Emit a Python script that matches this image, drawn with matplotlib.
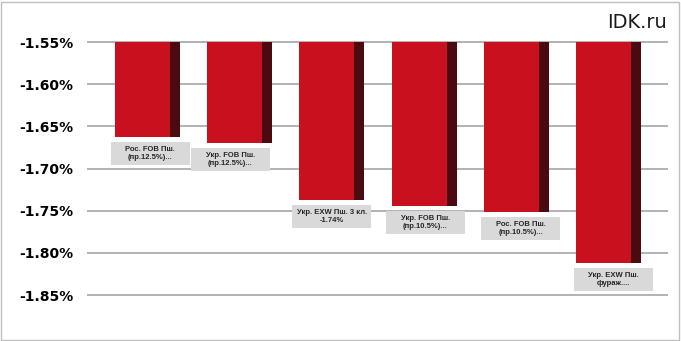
import matplotlib
matplotlib.use("Agg")
import matplotlib.pyplot as plt
from matplotlib.patches import Rectangle

# data
labels = ["Рос. FOB Пш.\n(пр.12.5%)...",
          "Укр. FOB Пш.\n(пр.12.5%)...",
          "Укр. EXW Пш. 3 кл.\n-1.74%",
          "Укр. FOB Пш.\n(пр.10.5%)...",
          "Рос. FOB Пш.\n(пр.10.5%)...",
          "Укр. EXW Пш.\nфураж...."]
values = [-1.663, -1.670, -1.737, -1.745, -1.751, -1.812]
yticks = [-1.55, -1.60, -1.65, -1.70, -1.75, -1.80, -1.85]
base = -1.55

# label box shifts (in bar units) as placed in the original
box_shift = [0.03, -0.10, 0.0, 0.015, 0.05, 0.05]

red = "#C8101E"
dark = "#4A0A10"

W, H = 681, 341
fig = plt.figure(figsize=(W / 100, H / 100), dpi=100)
fig.patch.set_facecolor("white")
fig.patches.append(Rectangle((1 / W, 1 / H), 678 / W, 338 / H, transform=fig.transFigure,
                             fill=False, edgecolor="#BFBFBF", linewidth=1))

# axes: -1.55 at y=42px, -1.85 at y=295px
ax = fig.add_axes([87 / W, (H - 310) / H, (668 - 87) / W, 280 / H])
px = 0.30 / 253.0
ax.set_ylim(-1.85 - 15 * px, -1.55 + 12 * px)
ax.set_xlim(-0.656, 5.645)

for y in yticks:
    ax.axhline(y, color="#A6A6A6", linewidth=1.2, zorder=1)

xs = list(range(len(values)))
heights = [v - base for v in values]
ax.bar([x - 0.3525 for x in xs], heights, bottom=base, width=0.5965, align="edge",
       color=red, zorder=3)
ax.bar([x + 0.244 for x in xs], heights, bottom=base, width=0.1085, align="edge",
       color=dark, zorder=3)

bw = 79 / 92.2
bh = 23 * px
for x, v, lab, s in zip(xs, values, labels, box_shift):
    cx = x + s
    top = v - 5 * px
    ax.add_patch(Rectangle((cx - bw / 2, top - bh), bw, bh, facecolor="#D9D9D9",
                           edgecolor="none", zorder=4, clip_on=False))
    ax.text(cx, top - bh / 2, lab, ha="center", va="center", fontsize=5.5,
            fontweight="bold", family="Liberation Sans", color="#262626",
            linespacing=1.2, zorder=5)

ax.set_yticks(yticks)
ax.set_yticklabels(["%.2f%%" % y for y in yticks], fontsize=10, fontweight="bold",
                   family="DejaVu Sans")
ax.tick_params(axis="y", length=0, pad=10)
ax.set_xticks([])
for sp in ax.spines.values():
    sp.set_visible(False)
ax.patch.set_alpha(0)

fig.text(667 / W, (H - 28) / H, "IDK.ru", ha="right", va="baseline", fontsize=14,
         family="DejaVu Sans", color="#1a1a1a")

fig.savefig("out.png", dpi=100)
